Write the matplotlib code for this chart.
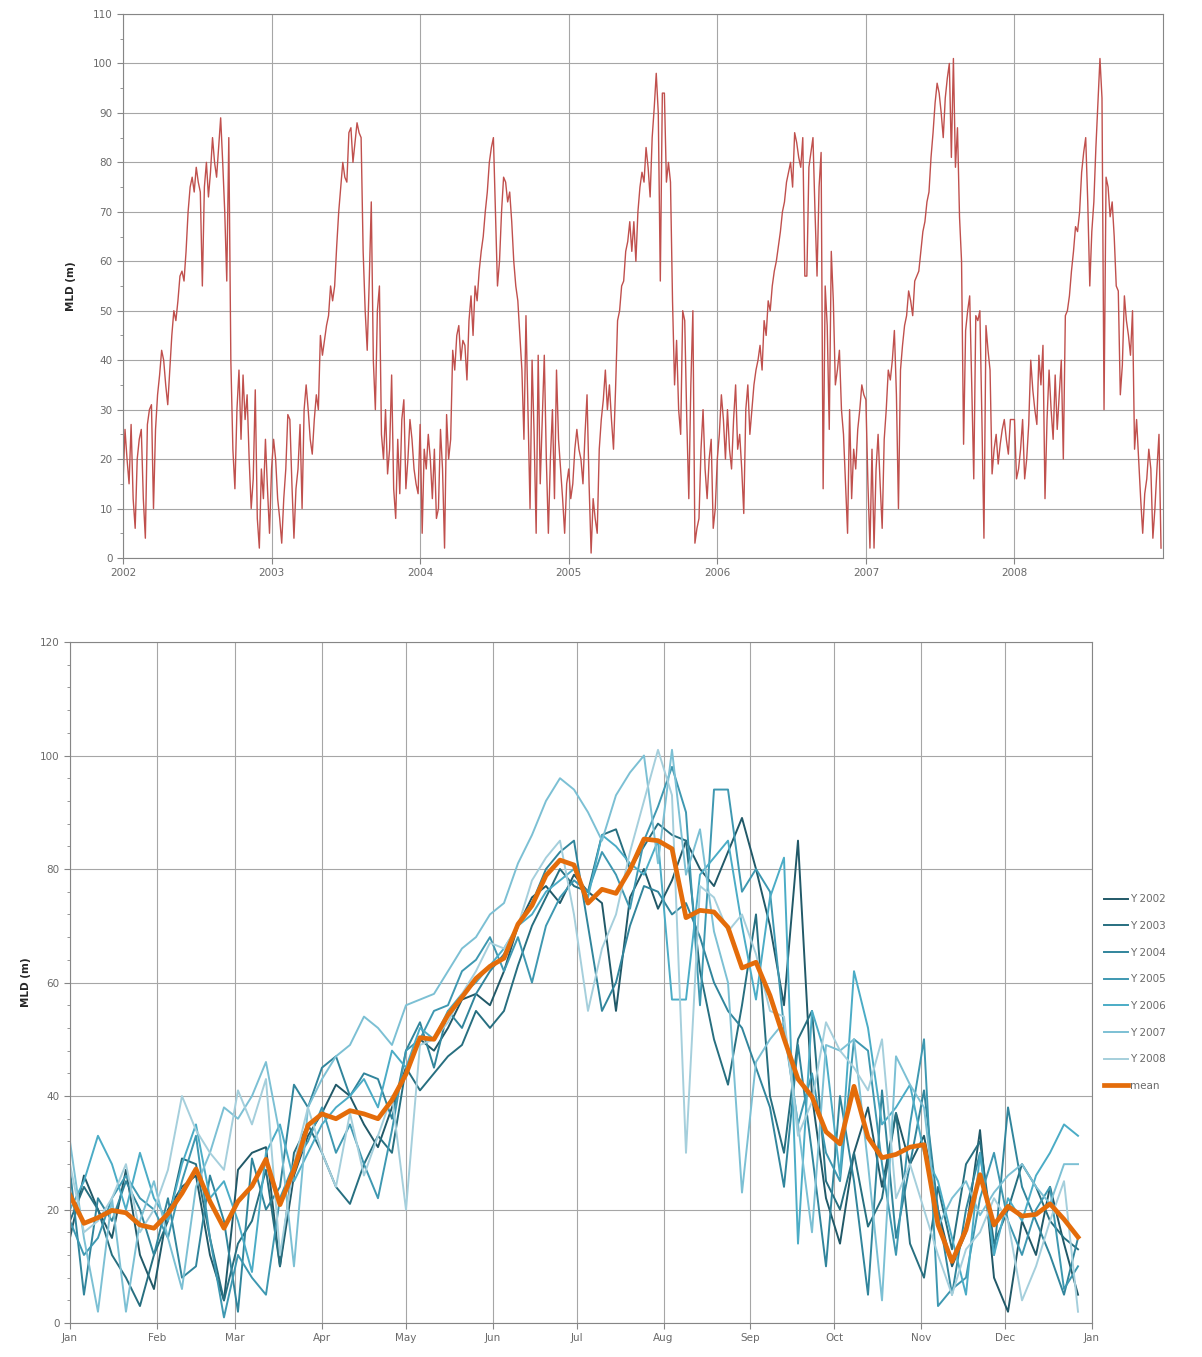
import numpy as np
import matplotlib.pyplot as plt
from matplotlib.ticker import MultipleLocator

# MLD (m), one value every 5 days (day 0 .. 360)
days = np.arange(0, 365, 5)

y2002 = [15, 26, 20, 15, 27, 12, 6, 20, 24, 26,
         12, 4, 27, 30, 31, 10, 26, 33, 37, 42,
         40, 35, 31, 38, 45, 50, 48, 52, 57, 58,
         56, 62, 70, 75, 77, 74, 79, 76, 74, 55,
         75, 80, 73, 78, 85, 80, 77, 83, 89, 80,
         70, 56, 85, 40, 22, 14, 30, 38, 24, 37,
         28, 33, 20, 10, 16, 34, 8, 2, 18, 12,
         24, 14, 5]
y2003 = [18, 24, 20, 12, 8, 3, 12, 18, 29, 28,
         15, 4, 14, 18, 27, 10, 30, 35, 30, 24,
         21, 28, 33, 30, 45, 41, 44, 47, 49, 55,
         52, 55, 63, 70, 75, 80, 77, 76, 86, 87,
         80, 84, 88, 86, 85, 62, 50, 42, 56, 72,
         40, 30, 50, 55, 25, 20, 30, 17, 22, 37,
         14, 8, 24, 13, 28, 32, 14, 20, 28, 24,
         18, 15, 13]
y2004 = [27, 5, 22, 18, 25, 20, 12, 22, 8, 10,
         26, 18, 2, 29, 20, 24, 42, 38, 45, 47,
         40, 44, 43, 36, 48, 53, 45, 55, 52, 58,
         62, 65, 70, 74, 80, 83, 85, 70, 55, 60,
         70, 77, 76, 72, 74, 68, 60, 55, 52, 45,
         38, 24, 49, 30, 10, 40, 25, 5, 41, 15,
         28, 41, 20, 5, 20, 30, 12, 38, 24, 18,
         12, 5, 15]
y2005 = [18, 12, 15, 22, 26, 22, 20, 15, 25, 33,
         15, 1, 12, 8, 5, 22, 28, 32, 38, 30,
         35, 28, 22, 34, 48, 50, 55, 56, 62, 64,
         68, 62, 68, 60, 70, 75, 78, 76, 83, 79,
         73, 85, 91, 98, 90, 56, 94, 94, 76, 80,
         76, 52, 35, 44, 30, 25, 50, 48, 28, 12,
         35, 50, 3, 6, 8, 22, 30, 18, 12, 20,
         24, 6, 10]
y2006 = [20, 25, 33, 28, 20, 30, 22, 18, 28, 35,
         22, 25, 18, 9, 30, 35, 25, 30, 35, 38,
         40, 43, 38, 48, 45, 52, 50, 55, 58, 60,
         63, 66, 70, 72, 76, 78, 80, 75, 86, 84,
         81, 79, 85, 57, 57, 79, 82, 85, 70, 57,
         75, 82, 14, 55, 47, 26, 62, 52, 35, 38,
         42, 30, 25, 15, 5, 30, 12, 22, 18, 26,
         30, 35, 33]
y2007 = [32, 15, 2, 22, 2, 18, 25, 15, 6, 24,
         30, 38, 36, 40, 46, 33, 10, 38, 43, 47,
         49, 54, 52, 49, 56, 57, 58, 62, 66, 68,
         72, 74, 81, 86, 92, 96, 94, 90, 85, 93,
         97, 100, 81, 101, 79, 87, 69, 60, 23, 46,
         50, 53, 35, 16, 49, 48, 50, 28, 4, 47,
         42, 38, 17, 22, 25, 19, 23, 26, 28, 24,
         21, 28, 28]
y2008 = [28, 16, 18, 22, 28, 16, 20, 27, 40, 34,
         30, 27, 41, 35, 43, 12, 28, 38, 30, 24,
         37, 26, 33, 40, 20, 49, 50, 53, 58, 62,
         67, 66, 70, 78, 82, 85, 72, 55, 66, 72,
         83, 92, 101, 93, 30, 77, 75, 69, 72, 65,
         55, 54, 33, 39, 53, 48, 45, 41, 50, 22,
         28, 20, 12, 5, 13, 16, 22, 18, 4, 10,
         18, 25, 2]

years = [2002, 2003, 2004, 2005, 2006, 2007, 2008]
series = [y2002, y2003, y2004, y2005, y2006, y2007, y2008]
year_colors = ['#215968', '#276f80', '#31859c', '#3e98b1',
               '#4bacc6', '#7cc0d4', '#a5cfdc']

month_starts = [0, 31, 59, 90, 120, 151, 181, 212, 243, 273, 304, 334, 365]
month_labels = ['Jan', 'Feb', 'Mar', 'Apr', 'May', 'Jun', 'Jul',
                'Aug', 'Sep', 'Oct', 'Nov', 'Dec', 'Jan']

grid_c = '#a6a6a6'
text_c = '#6a6a6a'

fig = plt.figure(figsize=(12.02, 13.57), dpi=100)


def style_axes(ax):
    for s in ax.spines.values():
        s.set_color('#868686')
        s.set_linewidth(0.8)
    ax.tick_params(which='both', colors='#868686', labelcolor=text_c,
                   labelsize=7.5, direction='out')
    ax.tick_params(which='major', length=4)
    ax.tick_params(which='minor', length=2)
    ax.grid(True, which='major', color=grid_c, linewidth=0.8)
    ax.set_axisbelow(True)


# top: full time series
ax1 = fig.add_axes([0.1023, 0.5888, 0.8653, 0.4009])
t = np.concatenate([yr + days / 365.0 for yr in years])
v = np.concatenate(series)
ax1.plot(t, v, color='#c0504d', linewidth=1.0)
ax1.set_xlim(2002, 2009)
ax1.set_ylim(0, 110)
ax1.set_xticks(years)
ax1.set_xticklabels([str(y) for y in years])
ax1.yaxis.set_major_locator(MultipleLocator(10))
ax1.yaxis.set_minor_locator(MultipleLocator(5))
style_axes(ax1)
ax1.set_ylabel('MLD (m)', fontsize=7.5, fontweight='bold', color='#262626',
               labelpad=12)

# bottom: seasonal cycle per year plus mean
ax2 = fig.add_axes([0.0582, 0.0250, 0.8503, 0.5019])
for yr, vals, c in zip(years, series, year_colors):
    ax2.plot(days, vals, color=c, linewidth=1.4, label='Y %d' % yr)
mean_vals = np.mean(np.array(series, dtype=float), axis=0)
ax2.plot(days, mean_vals, color='#e46c0a', linewidth=3.4, label='mean')
ax2.set_xlim(0, 365)
ax2.set_ylim(0, 120)
ax2.set_xticks(month_starts)
ax2.set_xticklabels(month_labels)
ax2.yaxis.set_major_locator(MultipleLocator(20))
ax2.yaxis.set_minor_locator(MultipleLocator(4))
style_axes(ax2)
ax2.set_ylabel('MLD (m)', fontsize=7.5, fontweight='bold', color='#262626',
               labelpad=6)
leg = ax2.legend(loc='center left', bbox_to_anchor=(1.003, 0.485),
                 frameon=False, fontsize=7.5, handlelength=2.3,
                 handletextpad=0.2, labelspacing=1.6)
for txt in leg.get_texts():
    txt.set_color(text_c)

fig.savefig('out.png', dpi=100, facecolor='white')
